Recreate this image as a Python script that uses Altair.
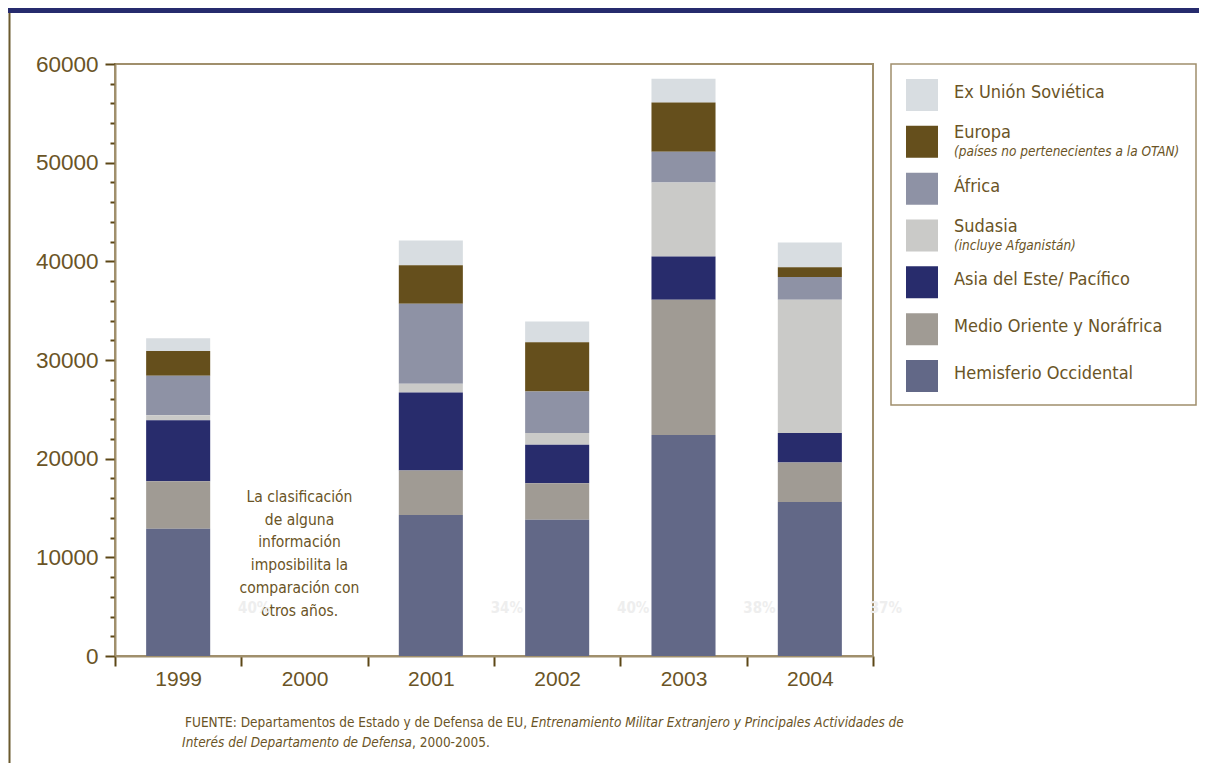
import altair as alt
import pandas as pd

# ---------------- data ----------------
years = ["1999", "2000", "2001", "2002", "2003", "2004"]
regions = [
    "Ex Unión Soviética",
    "Europa",
    "África",
    "Sudasia",
    "Asia del Este/ Pacífico",
    "Medio Oriente y Noráfrica",
    "Hemisferio Occidental",
]
subtitles = ["", "(países no pertenecientes a la OTAN)", "", "(incluye Afganistán)", "", "", ""]
colors = ["#d8dde1", "#654f1c", "#8e92a5", "#cacac8", "#282c6c", "#a09b94", "#626887"]

ex_urss = [1300, None, 2500, 2100, 2400, 2500]
europa = [2500, None, 3900, 5000, 5000, 1000]
africa = [4000, None, 8100, 4200, 3100, 2300]
sudasia = [500, None, 900, 1200, 7500, 13500]
asia_este = [6200, None, 7900, 3900, 4400, 3000]
medio_oriente = [4800, None, 4500, 3700, 13700, 4000]
hemisferio = [12900, None, 14300, 13800, 22400, 15600]

pct_labels = ["40%", None, "34%", "40%", "38%", "37%"]

y_minor = list(range(0, 60001, 2000))

note_text = "La clasificación\nde alguna\ninformación\nimposibilita la\ncomparación con\notros años."
foot_1a = "FUENTE: Departamentos de Estado y de Defensa de EU,"
foot_1b = "Entrenamiento Militar Extranjero y Principales Actividades de"
foot_2a = "Interés del Departamento de Defensa"
foot_2b = ", 2000-2005."

# ---------------- styling ----------------
NARROW = "DejaVu Sans Condensed, DejaVu Sans, sans-serif"
REG = "Liberation Sans, Arial, Helvetica, sans-serif"
TXT = "#6a5426"
TAN = "#a08f6c"
DARK = "#5c4716"

series = [ex_urss, europa, africa, sudasia, asia_este, medio_oriente, hemisferio]
rows = []
for ri, (reg, vals) in enumerate(zip(regions, series)):
    for y, v in zip(years, vals):
        if v is not None:
            rows.append({"year": y, "region": reg, "value": v, "rank": len(regions) - 1 - ri})
df = pd.DataFrame(rows)

pct_df = pd.DataFrame([{"year": y, "pct": p} for y, p in zip(years, pct_labels) if p is not None])
leg_df = pd.DataFrame({"region": regions, "subtitle": subtitles})
one = pd.DataFrame({"a": [0]})

color_scale = alt.Scale(domain=regions, range=colors)
x_scale = alt.Scale(domain=years, paddingInner=0, paddingOuter=0)

is_major = "datum.value % 10000 === 0"

bars = alt.Chart(df).mark_bar(width={"band": 0.507}).encode(
    x=alt.X("year:N", scale=x_scale, title=None,
            axis=alt.Axis(labelAngle=0, tickBand="extent", tickSize=10, tickWidth=2,
                          tickColor=DARK, domainColor=TAN, domainWidth=2, grid=False,
                          labelFont=REG, labelFontSize=21, labelColor=TXT, labelPadding=2)),
    y=alt.Y("value:Q", stack="zero", title=None,
            scale=alt.Scale(domain=[0, 60000], nice=False),
            axis=alt.Axis(values=y_minor, format="d", grid=False,
                          labelExpr=f"{is_major} ? datum.label : ''",
                          tickSize={"condition": {"test": is_major, "value": 10}, "value": 5},
                          tickWidth=2, tickColor=DARK, domainColor=TAN, domainWidth=2,
                          labelOverlap=False, labelPadding=7,
                          labelFont=REG, labelFontSize=22.5, labelColor=TXT)),
    color=alt.Color("region:N", scale=color_scale, legend=None),
    order=alt.Order("rank:Q", sort="ascending"),
)

note = alt.Chart(one).mark_text(
    text=note_text.split("\n"), font=NARROW, fontSize=15.5, color=TXT,
    align="center", baseline="middle", lineHeight=22.7, dx=-5,
).encode(x=alt.X(datum="2000", scale=x_scale), y=alt.value(433))

pct = alt.Chart(pct_df).mark_text(
    font=NARROW, fontSize=15, fontWeight="bold", color="#eeeeee",
    align="center", baseline="middle", dx=76,
).encode(x=alt.X("year:N", scale=x_scale), y=alt.value(544), text="pct:N")

def foot(txt, x, y, align, italic=False):
    return alt.Chart(one).mark_text(
        text=txt, font=NARROW, fontSize=13.5, color=TXT, align=align, baseline="middle",
        fontStyle="italic" if italic else "normal",
    ).encode(x=alt.value(x), y=alt.value(y))

feet = [foot(foot_1a, 412, 659, "right"), foot(foot_1b, 416, 659, "left", True),
        foot(foot_2a, 297, 679, "right", True), foot(foot_2b, 297, 679, "left")]

banner = alt.Chart(one).mark_rect(color="#262b6d").encode(
    x=alt.value(-107), x2=alt.value(1084), y=alt.value(-56), y2=alt.value(-51))
leftline = alt.Chart(one).mark_rule(color="#6b5a2e", strokeWidth=2).encode(
    x=alt.value(-105.5), y=alt.value(-51), y2=alt.value(699))

main = alt.layer(bars, note, pct, *feet, banner, leftline)

# ---------------- legend ----------------
leg_y = alt.Y("region:N", scale=alt.Scale(type="point", domain=regions, range=[31, 312], padding=0), axis=None)

leg_box = alt.Chart(one).mark_rect(fillOpacity=0, stroke=TAN, strokeWidth=1.5).encode(
    x=alt.value(776), x2=alt.value(1081), y=alt.value(0), y2=alt.value(341))
leg_sq = alt.Chart(leg_df).mark_square(size=1024, opacity=1, strokeWidth=0).encode(
    x=alt.value(807), y=leg_y, color=alt.Color("region:N", scale=color_scale, legend=None))
leg_lab1 = alt.Chart(leg_df).transform_filter("datum.subtitle === ''").mark_text(
    font=NARROW, fontSize=18, color=TXT, align="left", baseline="middle", dy=-2
).encode(x=alt.value(839), y=leg_y, text="region:N")
leg_lab2 = alt.Chart(leg_df).transform_filter("datum.subtitle !== ''").mark_text(
    font=NARROW, fontSize=18, color=TXT, align="left", baseline="middle", dy=-9
).encode(x=alt.value(839), y=leg_y, text="region:N")
leg_sub = alt.Chart(leg_df).transform_filter("datum.subtitle !== ''").mark_text(
    font=NARROW, fontSize=13.5, fontStyle="italic", color=TXT, align="left", baseline="middle", dy=10
).encode(x=alt.value(839), y=leg_y, text="subtitle:N")

legend = alt.layer(leg_box, leg_sq, leg_lab1, leg_lab2, leg_sub)

chart = alt.layer(main, legend).resolve_scale(y="independent").properties(
    width=758, height=592,
    padding={"left": 107, "top": 56, "right": 326, "bottom": 107},
    autosize=alt.AutoSizeParams(type="none"),
    background="white",
).configure_view(stroke=TAN, strokeWidth=2)

chart.save("out.html", embed_options={"renderer": "svg", "actions": False})
